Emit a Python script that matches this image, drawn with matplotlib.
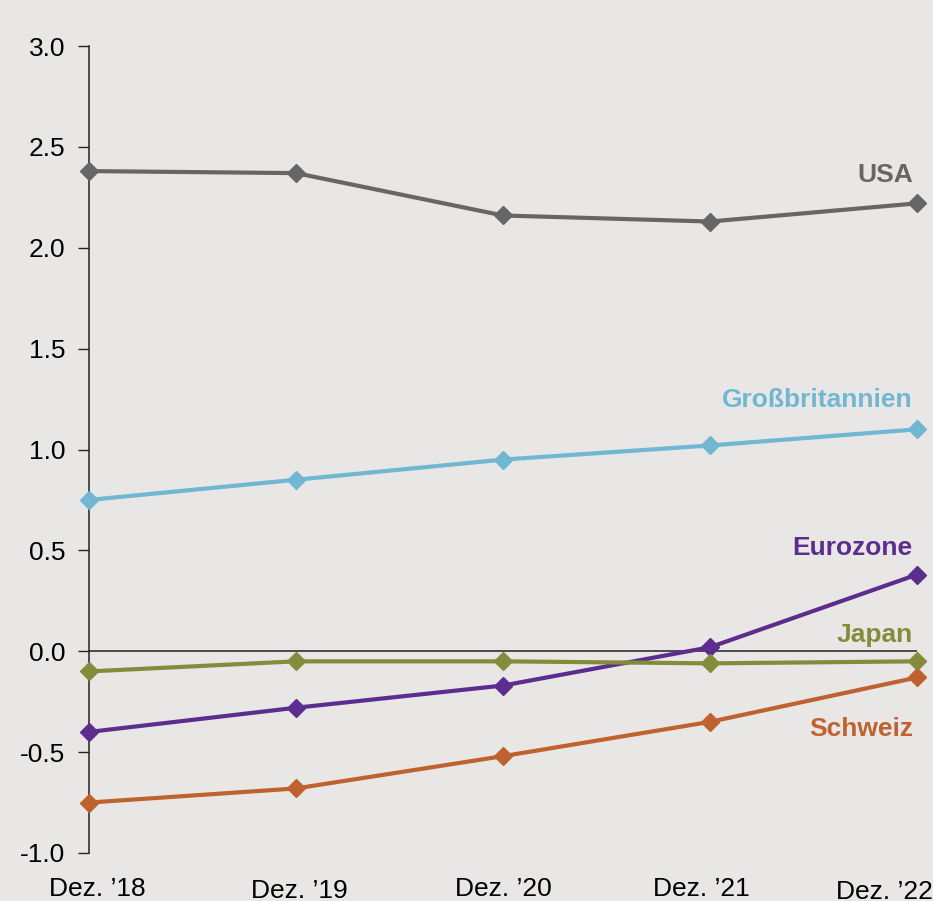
import matplotlib
matplotlib.use("Agg")
import matplotlib.pyplot as plt
import matplotlib.transforms as mtransforms

plt.rcParams["font.family"] = ["Liberation Sans", "DejaVu Sans"]

# Yearly values, Dez. 2018 .. Dez. 2022
periods = ["Dez. \u201918", "Dez. \u201919", "Dez. \u201920", "Dez. \u201921", "Dez. \u201922"]
usa = [2.38, 2.37, 2.16, 2.13, 2.22]
gb = [0.75, 0.85, 0.95, 1.02, 1.10]
eurozone = [-0.40, -0.28, -0.17, 0.02, 0.38]
japan = [-0.10, -0.05, -0.05, -0.06, -0.05]
schweiz = [-0.75, -0.68, -0.52, -0.35, -0.13]

series = [
    ("USA", usa, "#666666", 2.36),
    ("Großbritannien", gb, "#72b7d1", 1.245),
    ("Eurozone", eurozone, "#5c2d8e", 0.51),
    ("Japan", japan, "#848c3b", 0.08),
    ("Schweiz", schweiz, "#bf6230", -0.385),
]

BG = "#e8e7e5"
W, H = 933, 901
fig = plt.figure(figsize=(W / 100, H / 100), dpi=100)
fig.patch.set_facecolor(BG)
ax = fig.add_axes([89 / W, (H - 853) / H, (917 - 89) / W, (853 - 46) / H])
ax.set_facecolor(BG)

x = list(range(len(periods)))
ax.axhline(0, color="#222222", lw=1.1, zorder=1)

for name, vals, col, ly in series:
    ax.plot(x, vals, color=col, lw=3.0, marker="D", ms=9,
            clip_on=False, zorder=3)
    ax.text(3.98, ly, name, color=col, fontsize=19, fontweight="bold",
            ha="right", va="center")

ax.set_xlim(0, 4)
ax.set_ylim(-1.0, 3.0)
ax.set_yticks([-1.0, -0.5, 0.0, 0.5, 1.0, 1.5, 2.0, 2.5, 3.0])
ax.set_yticklabels([f"{v:.1f}" for v in ax.get_yticks()])
ax.tick_params(axis="y", length=8, width=1, color="#222222",
               labelsize=19, pad=9)

for s in ["top", "right", "bottom"]:
    ax.spines[s].set_visible(False)
ax.spines["left"].set_color("#222222")
ax.spines["left"].set_linewidth(1.1)

# period labels under the axis, edge ones nudged inwards
ax.set_xticks(x)
ax.set_xticklabels(periods, fontsize=19)
ax.tick_params(axis="x", length=0, pad=17)
shifts = [(8, 0), (3, -2), (0, 0), (-9, 0), (-33, -3)]
for lab, (dx, dy) in zip(ax.get_xticklabels(), shifts):
    lab.set_transform(lab.get_transform() +
                      mtransforms.ScaledTranslation(dx / 100, dy / 100, fig.dpi_scale_trans))

fig.savefig("out.png", dpi=100, facecolor=BG)
